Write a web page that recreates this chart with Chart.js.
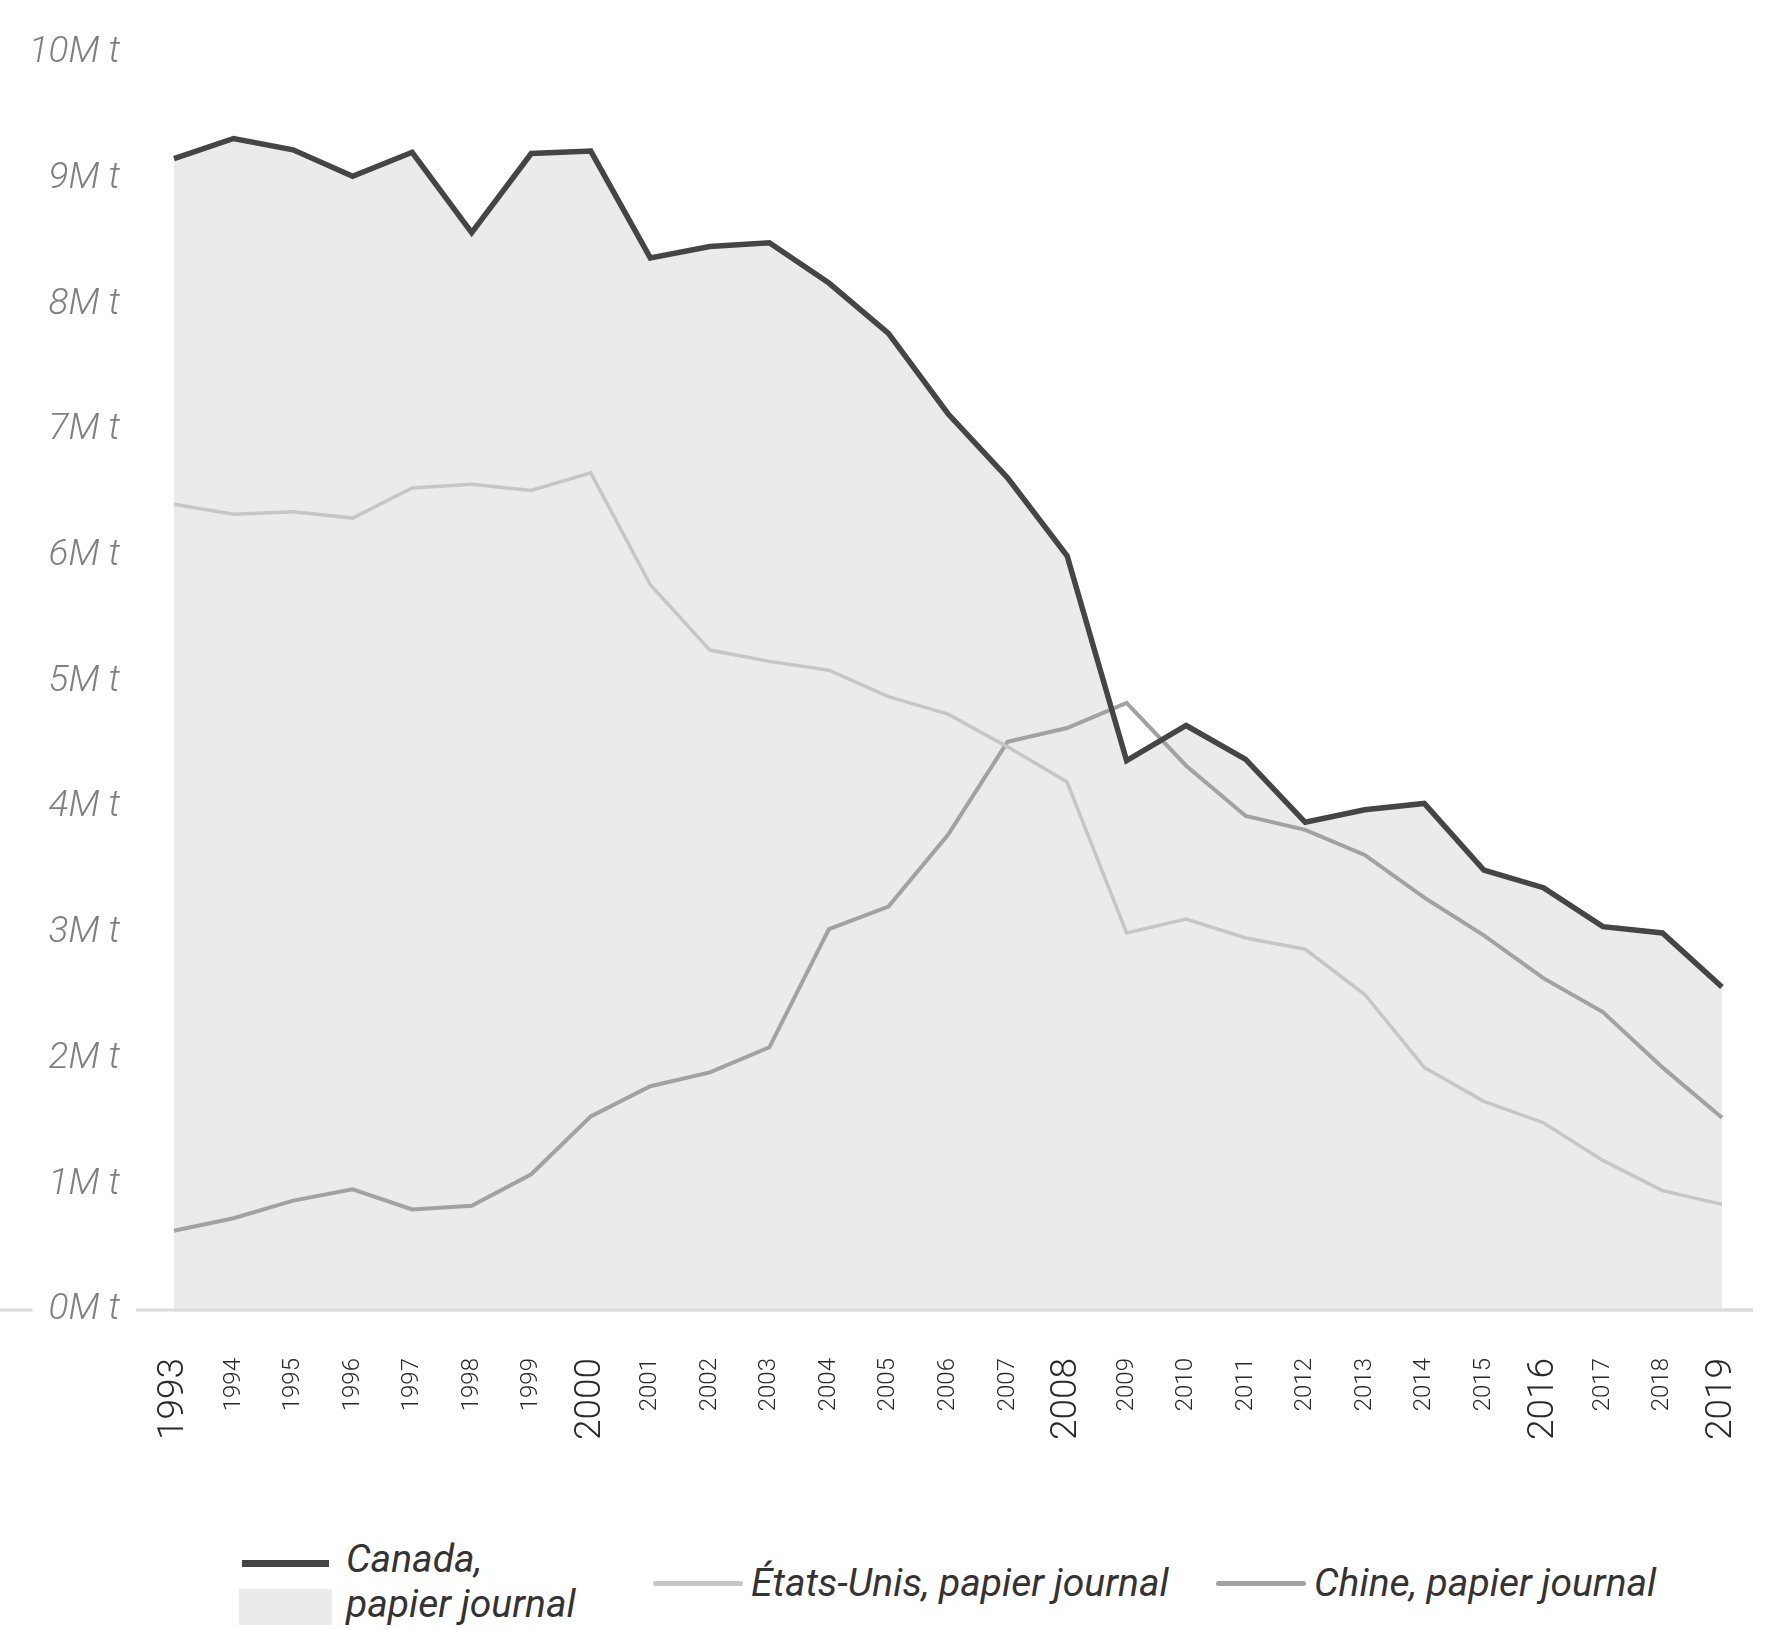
<!DOCTYPE html>
<html>
<head>
<meta charset="utf-8">
<script src="https://cdn.jsdelivr.net/npm/chart.js@4.4.1/dist/chart.umd.min.js"></script>
<style>
    html, body { margin: 0; padding: 0; background: #fff; }
    #wrap { position: relative; width: 1765px; height: 1629px; overflow: hidden; }
    #chart { position: absolute; left: 0; top: 0; }
    .swatch { position: absolute; }
    .legend-text {
        position: absolute;
        font-family: Roboto, "Noto Sans", sans-serif;
        font-style: italic;
        font-size: 39px;
        line-height: 45px;
        color: #333;
        white-space: nowrap;
    }
</style>
</head>
<body>
<div id="wrap">
    <canvas id="chart" width="1765" height="1500"></canvas>
    <div id="legend"></div>
</div>
<script>
const years = [
    "1993", "1994", "1995", "1996", "1997", "1998", "1999", "2000", "2001",
    "2002", "2003", "2004", "2005", "2006", "2007", "2008", "2009", "2010",
    "2011", "2012", "2013", "2014", "2015", "2016", "2017", "2018", "2019"
];
const bigYears = ["1993", "2000", "2008", "2016", "2019"];

// millions de tonnes
const canada = [
    9.16, 9.32, 9.23, 9.02, 9.21, 8.57, 9.20, 9.22, 8.37, 8.46, 8.49, 8.17, 7.77, 7.13,
    6.62, 6.00, 4.37, 4.65, 4.38, 3.88, 3.98, 4.03, 3.50, 3.36, 3.05, 3.00, 2.57
];
const etatsUnis = [
    6.41, 6.33, 6.35, 6.30, 6.54, 6.57, 6.52, 6.66, 5.77, 5.25, 5.16, 5.09, 4.88, 4.74,
    4.48, 4.20, 3.00, 3.11, 2.96, 2.87, 2.51, 1.93, 1.66, 1.49, 1.19, 0.95, 0.84
];
const chine = [
    0.63, 0.73, 0.87, 0.96, 0.80, 0.83, 1.08, 1.54, 1.78, 1.89, 2.09, 3.03, 3.21, 3.78,
    4.52, 4.63, 4.83, 4.33, 3.93, 3.82, 3.62, 3.28, 2.98, 2.64, 2.37, 1.93, 1.53
];

const yMin = 0;
const yMax = 10;
const yStep = 1;
const unitSuffix = "M t";

const seriesNames = ["Canada, papier journal", "États-Unis, papier journal", "Chine, papier journal"];

const baselinePlugin = {
    id: "baseline",
    beforeDraw(chart) {
        drawBaseline(chart, 0);
    },
    afterDatasetsDraw(chart) {
        drawBaseline(chart, chart.chartArea.left);
    }
};

function drawBaseline(chart, fromX) {
    const ctx = chart.ctx;
    const y = chart.scales.y.getPixelForValue(0);
    ctx.save();
    ctx.strokeStyle = "#dcdcdc";
    ctx.lineWidth = 3;
    ctx.beginPath();
    ctx.moveTo(fromX, y);
    ctx.lineTo(1753, y);
    ctx.stroke();
    ctx.restore();
}

new Chart(document.getElementById("chart"), {
    type: "line",
    data: {
        labels: years,
        datasets: [
            {
                label: seriesNames[0],
                data: canada,
                borderColor: "#454545",
                backgroundColor: "#ebebeb",
                borderWidth: 5.5,
                fill: "origin",
                pointRadius: 0,
                tension: 0,
                order: 0
            },
            {
                label: seriesNames[1],
                data: etatsUnis,
                borderColor: "#c6c6c6",
                borderWidth: 3.5,
                fill: false,
                pointRadius: 0,
                tension: 0,
                order: 1
            },
            {
                label: seriesNames[2],
                data: chine,
                borderColor: "#a2a2a2",
                borderWidth: 4,
                fill: false,
                pointRadius: 0,
                tension: 0,
                order: 2
            }
        ]
    },
    options: {
        responsive: false,
        animation: false,
        devicePixelRatio: 1,
        layout: {
            padding: { top: 53, right: 43, bottom: 40, left: 0 }
        },
        plugins: {
            legend: { display: false },
            tooltip: { enabled: false },
            filler: { drawTime: "beforeDatasetsDraw" }
        },
        scales: {
            x: {
                offset: false,
                grid: { display: false, drawTicks: false },
                border: { display: false },
                afterFit: (scale) => {
                    scale.height = 150;
                    scale.paddingLeft = 0;
                    scale.paddingRight = 0;
                },
                ticks: {
                    autoSkip: false,
                    maxRotation: 90,
                    minRotation: 90,
                    padding: 48,
                    color: "#2a2a2a",
                    font: (c) => ({
                        family: "Roboto, 'Noto Sans', sans-serif",
                        weight: "300",
                        size: bigYears.includes(years[c.index]) ? 37 : 24
                    })
                }
            },
            y: {
                min: yMin,
                max: yMax,
                grid: { display: false, drawTicks: false },
                border: { display: false },
                afterFit: (scale) => {
                    scale.width = 174;
                    scale.paddingTop = 0;
                    scale.paddingBottom = 0;
                },
                ticks: {
                    stepSize: yStep,
                    padding: 54,
                    color: "#808080",
                    showLabelBackdrop: true,
                    backdropColor: "#ffffff",
                    backdropPadding: { top: 2, bottom: 2, left: 16, right: 16 },
                    font: {
                        family: "Roboto, 'Noto Sans', sans-serif",
                        style: "italic",
                        weight: "300",
                        size: 37
                    },
                    callback: (v) => v + unitSuffix
                }
            }
        }
    },
    plugins: [baselinePlugin]
});

// legend built from the series names
const legend = document.getElementById("legend");
function addBox(left, top, w, h, color, radius) {
    const d = document.createElement("div");
    d.className = "swatch";
    d.style.cssText = `left:${left}px;top:${top}px;width:${w}px;height:${h}px;background:${color};border-radius:${radius || 0}px;`;
    legend.appendChild(d);
}
function addText(left, top, html) {
    const d = document.createElement("div");
    d.className = "legend-text";
    d.style.left = left + "px";
    d.style.top = top + "px";
    d.innerHTML = html;
    legend.appendChild(d);
}

addBox(242, 1560, 87, 7, "#454545");
addBox(239, 1589, 93, 36, "#ebebeb");
addText(346, 1537, seriesNames[0].replace(", ", ",<br>"));

addBox(653, 1581, 90, 5, "#c6c6c6", 3);
addText(751, 1561, seriesNames[1]);

addBox(1216, 1581, 90, 5, "#a2a2a2", 3);
addText(1314, 1561, seriesNames[2]);
</script>
</body>
</html>
